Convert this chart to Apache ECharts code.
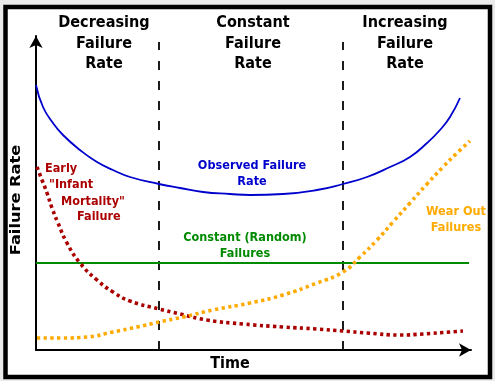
<!DOCTYPE html>
<html>
<head>
<meta charset="utf-8">
<script src="https://cdn.jsdelivr.net/npm/echarts@6/dist/echarts.min.js"></script>
<style>
html,body{margin:0;padding:0;background:#ebebeb;}
#c{width:495px;height:381px;}
</style>
</head>
<body>
<div id="c"></div>
<script>
// Time (x) and failure rate (y) values
var observed = [[0,265],[7,243],[17,227],[27,215],[44,200],[61,188],[77,180],[94,173],[123,166],[144,162],[167,158],[194,156],[214,155],[247,156],[281,160],[307,166],[331,173],[354,183],[374,193],[391,207],[404,220],[414,233],[424,252]];
var infant = [[1,183],[6,170],[11,157],[16,142],[22,127],[31,107],[44,87],[61,70],[77,58],[94,49],[123,41],[144,36],[171,30],[207,26],[247,23],[281,21],[307,19],[331,17],[364,15],[387,16],[414,18],[427,19]];
var wearOut = [[1,12],[27,12],[51,13],[77,18],[101,23],[123,28],[147,33],[177,40],[214,47],[247,55],[281,67],[307,78],[324,93],[341,110],[357,128],[374,147],[391,166],[407,183],[421,197],[434,209]];
var randomRate = [[0,87],[433,87]];
var boundaries = [123, 307];
var boundaryTop = 308;
var regionTitles = ['Decreasing\nFailure\nRate', 'Constant\nFailure\nRate', 'Increasing\nFailure\nRate'];
var infantLabel = ['Early', '"Infant', 'Mortality"', 'Failure'];

var FONT = '"DejaVu Sans", sans-serif';
var SX = 0.89;
var chart = echarts.init(document.getElementById('c'));

var series = [
  {type:'line', data:randomRate, symbol:'none', lineStyle:{color:'#008a00', width:2}, z:2},
  {type:'line', data:observed, symbol:'none', smooth:0.5, lineStyle:{color:'#0000cc', width:1.8}, z:3},
  {type:'line', data:infant, symbol:'none', smooth:0.5, lineStyle:{color:'#aa0000', width:3.6, type:[3.3,3.4], cap:'butt'}, z:4},
  {type:'line', data:wearOut, symbol:'none', smooth:0.5, lineStyle:{color:'#ffaa00', width:3.6, type:[3.3,3.4], cap:'butt'}, z:4}
];
boundaries.forEach(function(b){
  series.push({type:'line', data:[[b,0],[b,boundaryTop]], symbol:'none', lineStyle:{color:'#111', width:1.9, type:[9,11]}, z:1});
});

function txt(x, y, s, size, color, align){
  return {type:'text', x:x, y:y, scaleX:SX, style:{text:s, font:'bold '+size+'px '+FONT, fill:color, textAlign:align||'center', textVerticalAlign:'middle', lineHeight: size*1.25}, z:10};
}

var titleX = [104, 253, 405];
var graphics = [
  {type:'rect', shape:{x:5.5, y:7, width:484.5, height:370}, style:{fill:'#ffffff', stroke:'#000', lineWidth:4.5}, z:-10, silent:true}
];
regionTitles.forEach(function(t,i){
  graphics.push({type:'text', x:titleX[i], y:43.5, scaleX:SX, style:{text:t, font:'bold 16.3px '+FONT, fill:'#000', textAlign:'center', textVerticalAlign:'middle', lineHeight:20.5}, z:10});
});
graphics.push(txt(252, 174, 'Observed Failure\nRate', 12.7, '#0000cc'));
graphics.push(txt(245, 246, 'Constant (Random)\nFailures', 12.7, '#008a00'));
graphics.push(txt(456, 219.5, 'Wear Out\nFailures', 12.7, '#ffaa00'));
var infantX = [45, 49, 61, 77], infantY = [169, 185, 201.5, 217];
infantLabel.forEach(function(s,i){
  graphics.push(txt(infantX[i], infantY[i], s, 12.7, '#aa0000', 'left'));
});
graphics.push(txt(230, 364, 'Time', 16.2, '#000'));
graphics.push({type:'text', x:16, y:200, rotation:Math.PI/2, scaleY:SX, style:{text:'Failure Rate', font:'bold 16.2px '+FONT, fill:'#000', textAlign:'center', textVerticalAlign:'middle'}, z:10});

chart.setOption({
  animation:false,
  backgroundColor:'transparent',
  grid:{left:36, right:24, top:36, bottom:31, containLabel:false},
  xAxis:{type:'value', min:0, max:435, axisLine:{show:true, onZero:false, symbol:['none','arrow'], symbolSize:[10,12], lineStyle:{color:'#000', width:2}}, axisTick:{show:false}, axisLabel:{show:false}, splitLine:{show:false}},
  yAxis:{type:'value', min:0, max:314, axisLine:{show:true, onZero:false, symbol:['none','arrow'], symbolSize:[10,12], lineStyle:{color:'#000', width:2}}, axisTick:{show:false}, axisLabel:{show:false}, splitLine:{show:false}},
  graphic:graphics,
  series:series
});
</script>
</body>
</html>
